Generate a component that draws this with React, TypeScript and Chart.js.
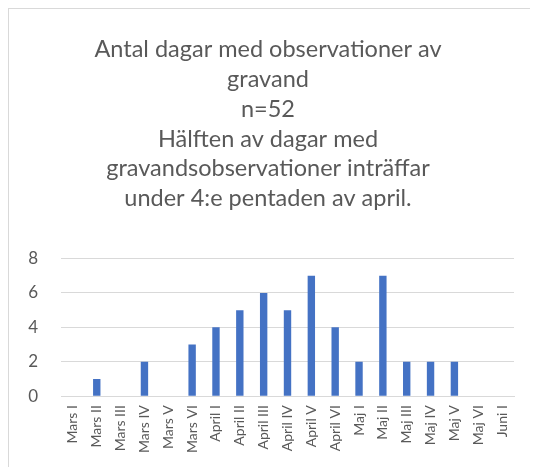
import React, { useEffect, useRef } from "react";
import { Chart, registerables } from "chart.js";

Chart.register(...registerables);

const categories = [
  "Mars I", "Mars II", "Mars III", "Mars IV", "Mars V", "Mars VI",
  "April I", "April II", "April III", "April IV", "April V", "April VI",
  "Maj I", "Maj II", "Maj III", "Maj IV", "Maj V", "Maj VI", "Juni I",
];
const values = [0, 1, 0, 2, 0, 3, 4, 5, 6, 5, 7, 4, 2, 7, 2, 2, 2, 0, 0];
const titleLines = [
  "Antal dagar med observationer av",
  "gravand",
  "n=52",
  "Hälften av dagar med",
  "gravandsobservationer inträffar",
  "under 4:e pentaden av april.",
];
const yMin = 0;
const yMax = 8;
const yStep = 2;

const FONT = "Lato, sans-serif";
const TEXT = "#595959";

export default function App() {
  const ref = useRef<HTMLCanvasElement | null>(null);
  useEffect(() => {
    document.body.style.overflow = "hidden";
    const chart = new Chart(ref.current as HTMLCanvasElement, {
      type: "bar",
      data: {
        labels: categories,
        datasets: [
          {
            data: values,
            backgroundColor: "#4472C4",
            barPercentage: 0.31,
            categoryPercentage: 1,
          },
        ],
      },
      options: {
        animation: false,
        responsive: false,
        layout: { padding: { left: 13, right: 24, top: 0, bottom: 5 } },
        plugins: {
          legend: { display: false },
          tooltip: { enabled: false },
          title: {
            display: true,
            text: titleLines,
            color: TEXT,
            font: { family: FONT, size: 23.5, weight: "normal", lineHeight: 1.27 },
            padding: { top: 25.5, bottom: 45 },
          },
        },
        scales: {
          x: {
            grid: { display: false, drawTicks: false },
            border: { display: true, color: "#d9d9d9" },
            ticks: {
              color: TEXT,
              font: { family: FONT, size: 14 },
              maxRotation: 90,
              minRotation: 90,
              autoSkip: false,
              padding: 9,
            },
          },
          y: {
            min: yMin,
            max: yMax,
            clip: false,
            grid: { color: "#d9d9d9", drawTicks: false },
            border: { display: false },
            afterFit: (scale: any) => {
              scale.width = 39;
            },
            ticks: {
              stepSize: yStep,
              color: TEXT,
              font: { family: FONT, size: 17 },
              padding: 23,
            },
          },
        },
      },
    });
    return () => chart.destroy();
  }, []);
  return (
    <div
      style={{
        width: 530,
        height: 459,
        borderTop: "1px solid #d9d9d9",
        borderLeft: "1px solid #d9d9d9",
        boxSizing: "border-box",
        overflow: "hidden",
      }}
    >
      <canvas ref={ref} width={529} height={458} style={{ display: "block" }} />
    </div>
  );
}
